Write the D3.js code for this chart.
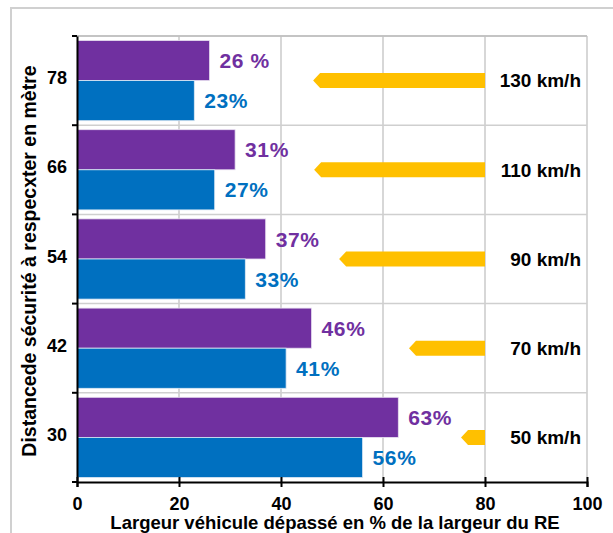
<!DOCTYPE html>
<html><head><meta charset="utf-8">
<script src="https://cdn.jsdelivr.net/npm/d3@7"></script>
<style>body{margin:0;background:#fff}svg{display:block;font-family:"Liberation Sans",Arial,sans-serif;font-weight:bold}</style>
</head><body><svg id="c" width="613" height="533"></svg>
<script>
const categories = ["78","66","54","42","30"];
const purpleValues = [26,31,37,46,63];
const blueValues = [23,27,33,41,56];
const purpleLabels = ["26 %","31%","37%","46%","63%"];
const blueLabels = ["23%","27%","33%","41%","56%"];
const speeds = ["130 km/h","110 km/h","90 km/h","70 km/h","50 km/h"];
const arrowTips = [46.3,46.5,51.4,65.1,75.3];
const arrowEnd = 80;
const xTicks = [0,20,40,60,80,100];

const svg = d3.select("#c");
const L=77,R=587,T=36,B=482;
const x = d3.scaleLinear().domain([0,100]).range([L,R]);
const y = d3.scaleBand().domain(categories).range([T,B]).padding(0);
const bw = y.bandwidth(), pad=4.5, bh=(bw-2*pad)/2;

// outer frame
svg.append("rect").attr("x",11).attr("y",8).attr("width",640).attr("height",560).attr("fill","none").attr("stroke","#d0d0d0").attr("stroke-width",2);

// gridlines
svg.append("g").selectAll("line").data(xTicks.slice(1)).join("line")
 .attr("x1",d=>x(d)).attr("x2",d=>x(d)).attr("y1",T).attr("y2",B).attr("stroke","#bdbdbd").attr("stroke-width",1.2);
svg.append("g").selectAll("line").data(categories).join("line")
 .attr("x1",L).attr("x2",R).attr("y1",d=>y(d)).attr("y2",d=>y(d)).attr("stroke","#cfcfcf").attr("stroke-width",1.5);

// bars
svg.append("g").selectAll("rect").data(categories).join("rect")
 .attr("x",L).attr("y",d=>y(d)+pad).attr("width",(d,i)=>x(purpleValues[i])-L).attr("height",bh)
 .attr("fill","#7030A0").attr("stroke","#e8e0f0").attr("stroke-width",0.8);
svg.append("g").selectAll("rect").data(categories).join("rect")
 .attr("x",L).attr("y",d=>y(d)+pad+bh).attr("width",(d,i)=>x(blueValues[i])-L).attr("height",bh)
 .attr("fill","#0070C0").attr("stroke","#dde8f4").attr("stroke-width",0.8);

// value labels
svg.append("g").selectAll("text").data(categories).join("text")
 .attr("x",(d,i)=>x(purpleValues[i])+10).attr("y",d=>y(d)+pad+bh/2).attr("dy","0.36em")
 .attr("fill","#7030A0").attr("font-size",21).attr("letter-spacing",0.6).text((d,i)=>purpleLabels[i]);
svg.append("g").selectAll("text").data(categories).join("text")
 .attr("x",(d,i)=>x(blueValues[i])+10).attr("y",d=>y(d)+pad+bh*1.5).attr("dy","0.36em")
 .attr("fill","#0070C0").attr("font-size",21).attr("letter-spacing",0.6).text((d,i)=>blueLabels[i]);

// arrows
const ah=15, notch=7;
svg.append("g").selectAll("path").data(categories).join("path")
 .attr("d",(d,i)=>{const cy=y(d)+bw/2, xt=x(arrowTips[i]), xe=x(arrowEnd);
   return `M${xe},${cy-ah/2}L${xt+notch},${cy-ah/2}L${xt},${cy}L${xt+notch},${cy+ah/2}L${xe},${cy+ah/2}Z`;})
 .attr("fill","#FFC000");
svg.append("g").selectAll("text").data(categories).join("text")
 .attr("x",581).attr("y",d=>y(d)+bw/2).attr("dy","0.36em").attr("text-anchor","end")
 .attr("font-size",19).attr("fill","#000").text((d,i)=>speeds[i]);

// plot border top
svg.append("line").attr("x1",L).attr("x2",R).attr("y1",T).attr("y2",T).attr("stroke","#bdbdbd").attr("stroke-width",1.5);

// axes
const xa = svg.append("g").attr("transform",`translate(0,${B})`)
 .call(d3.axisBottom(x).tickValues(xTicks).tickSize(5).tickPadding(10));
xa.select(".domain").attr("stroke","#000").attr("stroke-width",2);
xa.selectAll(".tick line").attr("stroke","#000").attr("stroke-width",2).attr("y1",-5);
xa.selectAll("text").attr("font-size",18).attr("font-weight","bold").attr("font-family","Liberation Sans, Arial, sans-serif").attr("fill","#000");

const ya = svg.append("g").attr("transform",`translate(${L},0)`)
 .call(d3.axisLeft(y).tickSize(0).tickPadding(10));
ya.select(".domain").attr("stroke","#000").attr("stroke-width",2);
ya.selectAll("text").attr("font-size",18).attr("font-weight","bold").attr("font-family","Liberation Sans, Arial, sans-serif").attr("fill","#000").attr("dy","0.2em");
svg.append("g").selectAll("line").data(categories.map(c=>y(c)).concat([B])).join("line")
 .attr("x1",L-5).attr("x2",L).attr("y1",d=>d).attr("y2",d=>d).attr("stroke","#000").attr("stroke-width",2);

// titles
svg.append("text").attr("x",(L+R)/2+3).attr("y",529).attr("text-anchor","middle").attr("font-size",18.5).attr("fill","#000")
 .text("Largeur véhicule dépassé en % de la largeur du RE");
svg.append("text").attr("transform",`translate(36,261) rotate(-90)`).attr("text-anchor","middle").attr("font-size",19.5).attr("fill","#000")
 .text("Distancede sécurité à respecxter en mètre");
</script></body></html>
